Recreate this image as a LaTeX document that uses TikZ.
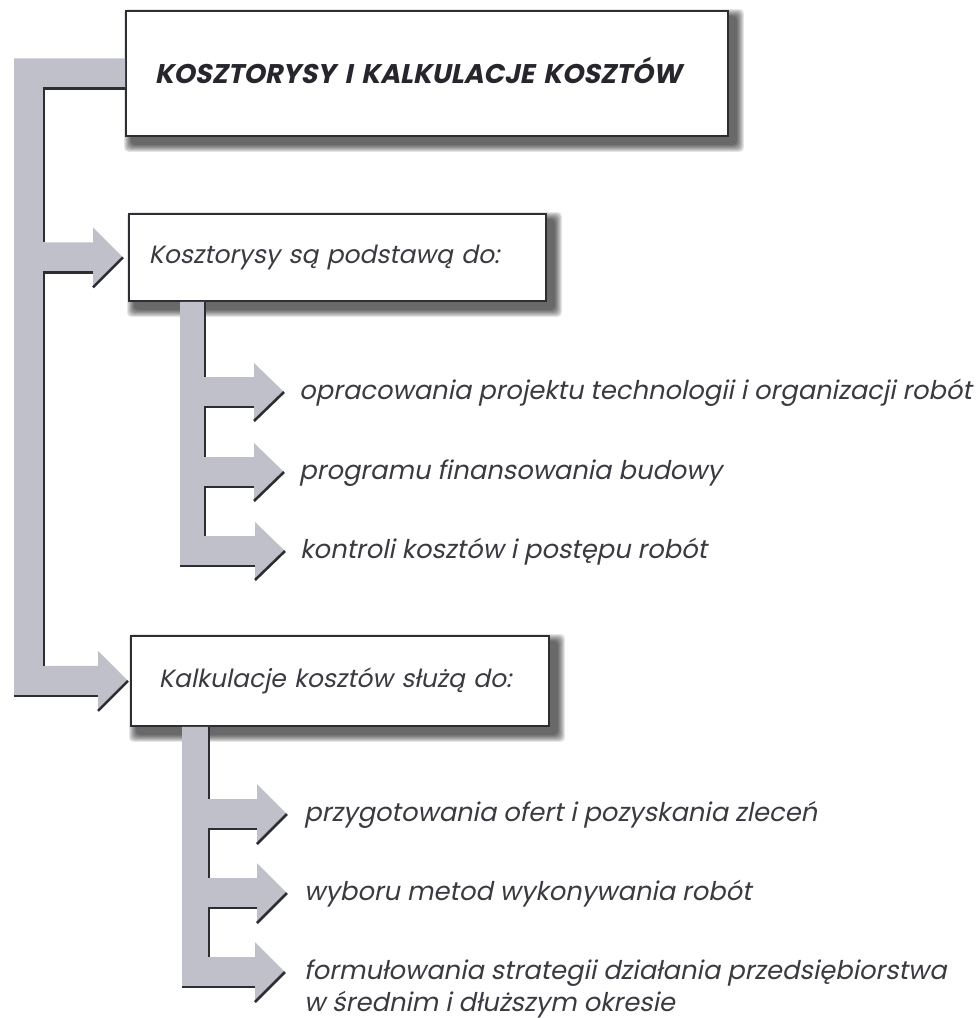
\documentclass[tikz,border=0pt]{standalone}
\usepackage{fontspec}
\setmainfont{Poppins}[AutoFakeSlant=0.2]
\newfontfamily\titlefam{Poppins}[BoldFeatures={FakeSlant=0.2}]
\usetikzlibrary{calc,backgrounds}
\definecolor{bandgray}{RGB}{192,192,202}
\definecolor{edgedark}{RGB}{45,45,52}
\definecolor{ink}{RGB}{58,58,64}
\definecolor{titleink}{RGB}{38,38,44}
\tikzset{
  box/.style={draw=edgedark, line width=1.8pt, fill=white, anchor=north west, inner ysep=0pt, align=left},
  boxfont/.style={font=\fontsize{25}{30}\selectfont\itshape, text=ink},
  titlefont/.style={font=\titlefam\fontsize{27}{32}\selectfont\bfseries, text=titleink},
  item/.style={anchor=base west, inner sep=0pt, text=ink, font=\fontsize{25.8}{32}\selectfont\itshape},
  bandfill/.style={fill=bandgray},
  shadeline/.style={draw=edgedark, line width=2.6pt},
}
\newcommand\softshadow[1]{%
  \begin{pgfonlayer}{background}
  \foreach \k in {0,...,7}{
    \fill[black, opacity=0.1, rounded corners=4pt]
      ($(#1.north west)+(-1+\k,-1+\k)$) rectangle ($(#1.south east)+(15-\k,15-\k)$);
  }
  \end{pgfonlayer}}
\newcommand\comb[7]{% #1 left x, #2 right x, #3 top node anchor, #4 #5 #6 tips, #7 head half height
  \fill[bandfill] (#1 |- #3) -- (#2 |- #3)
    -- ($(#2 |- #4)+(0,-15)$) -- ($(#4)+(-30,-15)$) -- ($(#4)+(-30,-#7)$) -- (#4) -- ($(#4)+(-30,#7)$) -- ($(#4)+(-30,15)$) -- ($(#2 |- #4)+(0,15)$)
    -- ($(#2 |- #5)+(0,-15)$) -- ($(#5)+(-30,-15)$) -- ($(#5)+(-30,-#7)$) -- (#5) -- ($(#5)+(-30,#7)$) -- ($(#5)+(-30,15)$) -- ($(#2 |- #5)+(0,15)$)
    -- ($(#2 |- #6)+(0,-15)$) -- ($(#6)+(-30,-15)$) -- ($(#6)+(-30,-#7)$) -- (#6) -- ($(#6)+(-30,#7)$) -- ($(#6)+(-30,15)$) -- ($(#1 |- #6)+(0,15)$) -- cycle;
  \draw[shadeline] (#2 |- #3) -- ($(#2 |- #4)+(0,-15)$);
  \draw[shadeline] ($(#4)+(-30,15)$) -- ($(#2 |- #4)+(0,15)$) -- ($(#2 |- #5)+(0,-15)$);
  \draw[shadeline] ($(#5)+(-30,15)$) -- ($(#2 |- #5)+(0,15)$) -- ($(#2 |- #6)+(0,-15)$);
  \draw[shadeline] ($(#6)+(-30,15)$) -- ($(#1 |- #6)+(0,15)$);
  \draw[shadeline] (#4) -- ($(#4)+(-30,#7)$);
  \draw[shadeline] (#5) -- ($(#5)+(-30,#7)$);
  \draw[shadeline] (#6) -- ($(#6)+(-30,#7)$);
}
\begin{document}
\begin{tikzpicture}[x=1pt,y=-1pt]
\useasboundingbox (0,0) rectangle (980,1018);
\begin{pgfonlayer}{background}
  \fill[white] (0,0) rectangle (980,1018);
\end{pgfonlayer}

% boxes
\node[box, titlefont, minimum width=602pt, minimum height=125pt, inner xsep=29pt, text width=544pt] (title) at (125,10) {\raisebox{6pt}{KOSZTORYSY I KALKULACJE KOSZTÓW}};
\node[box, boxfont, minimum width=417pt, minimum height=87pt, inner xsep=20pt, text width=377pt] (b2) at (128,213) {Kosztorysy są podstawą do:};
\node[box, boxfont, minimum width=418pt, minimum height=90pt, inner xsep=28pt, text width=362pt] (b3) at (130,635) {Kalkulacje kosztów służą do:};
\softshadow{title}
\softshadow{b2}
\softshadow{b3}

% arrow tips for items
\coordinate (a1) at (284,392);
\coordinate (a2) at (284,472);
\coordinate (a3) at (285,551);
\coordinate (c1) at (287,814);
\coordinate (c2) at (287,893);
\coordinate (c3) at (285,972);

% item texts
\node[item] (i1) at ($(a1)+(15,7)$) {opracowania projektu technologii i organizacji robót};
\node[item] (i2) at ($(a2)+(15,7)$) {programu finansowania budowy};
\node[item] (i3) at ($(a3)+(15,7)$) {kontroli kosztów i postępu robót};
\node[item] (i4) at ($(c1)+(17,7)$) {przygotowania ofert i pozyskania zleceń};
\node[item] (i5) at ($(c2)+(17,7)$) {wyboru metod wykonywania robót};
\node[item, align=left] (i6) at ($(c3)+(19,39)$) {formułowania strategii działania przedsiębiorstwa\\w średnim i dłuższym okresie};

% main trunk
\coordinate (mL) at (14,0);
\coordinate (mR) at (44,0);
\coordinate (t0) at (title.west);
\coordinate (t2) at ($(b2.west)+(-5,0)$);
\coordinate (t3) at ($(b3.west)+(-2,0)$);
\fill[bandfill] ($(mL |- t0)+(0,-15)$) -- ($(t0)+(0,-15)$) -- ($(t0)+(0,15)$) -- ($(mR |- t0)+(0,15)$)
  -- ($(mR |- t2)+(0,-15)$) -- ($(t2)+(-30,-15)$) -- ($(t2)+(-30,-30)$) -- (t2) -- ($(t2)+(-30,30)$) -- ($(t2)+(-30,15)$) -- ($(mR |- t2)+(0,15)$)
  -- ($(mR |- t3)+(0,-15)$) -- ($(t3)+(-30,-15)$) -- ($(t3)+(-30,-30)$) -- (t3) -- ($(t3)+(-30,30)$) -- ($(t3)+(-30,15)$) -- ($(mL |- t3)+(0,15)$) -- cycle;
\draw[shadeline] ($(t0)+(0,15)$) -- ($(mR |- t0)+(0,15)$) -- ($(mR |- t2)+(0,-15)$);
\draw[shadeline] ($(t2)+(-30,15)$) -- ($(mR |- t2)+(0,15)$) -- ($(mR |- t3)+(0,-15)$);
\draw[shadeline] ($(t3)+(-30,15)$) -- ($(mL |- t3)+(0,15)$);
\draw[shadeline] (t2) -- ($(t2)+(-30,30)$);
\draw[shadeline] (t3) -- ($(t3)+(-30,30)$);

% sub-combs
\coordinate (g1L) at (180,0);
\coordinate (g1R) at (205,0);
\coordinate (g2L) at (182,0);
\coordinate (g2R) at (209,0);
\comb{g1L}{g1R}{b2.south}{a1}{a2}{a3}{29}
\comb{g2L}{g2R}{b3.south}{c1}{c2}{c3}{30}
\end{tikzpicture}
\end{document}
